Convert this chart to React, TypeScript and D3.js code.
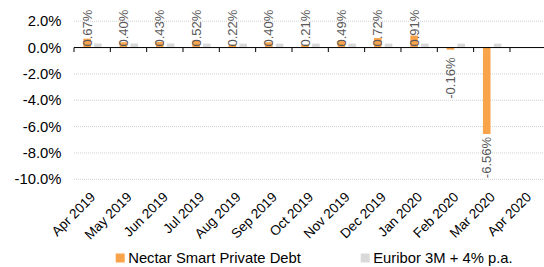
import React, { useEffect, useRef } from "react";
import * as d3 from "d3";

const months = [
  "Apr 2019", "May 2019", "Jun 2019", "Jul 2019", "Aug 2019", "Sep 2019", "Oct 2019",
  "Nov 2019", "Dec 2019", "Jan 2020", "Feb 2020", "Mar 2020", "Apr 2020",
];
const nectar: (number | null)[] = [0.67, 0.4, 0.43, 0.52, 0.22, 0.4, 0.21, 0.49, 0.72, 0.91, -0.16, -6.56, null];
const euribor: (number | null)[] = [0.31, 0.31, 0.31, 0.3, 0.3, 0.3, 0.3, 0.3, 0.3, 0.3, 0.3, 0.3, null];
const yTicks = [2, 0, -2, -4, -6, -8, -10];
const seriesNames = ["Nectar Smart Private Debt", "Euribor 3M + 4% p.a."];
const colors = ["#F9A34A", "#D9D9D9"];

const App = () => {
  const svgRef = useRef<SVGSVGElement>(null);

  useEffect(() => {
    const svg = d3.select(svgRef.current);
    const width = 544;
    const height = 267;
    svg.selectAll("*").remove();

    const x = d3.scaleBand().domain(months).range([74, 546.3]).padding(0);
    const bw = x.bandwidth();
    const sub = d3
      .scaleBand()
      .domain(["a", "b"])
      .range([bw * 0.256, bw * 0.763])
      .paddingInner(0.3);
    const y = d3.scaleLinear().domain([-10, 2]).range([179.3, 21.2]);

    // gridlines
    svg
      .append("g")
      .selectAll("line")
      .data(yTicks.filter((d) => d !== 0))
      .enter()
      .append("line")
      .attr("x1", 74)
      .attr("x2", width)
      .attr("y1", (d) => y(d))
      .attr("y2", (d) => y(d))
      .attr("stroke", "#D0D0D0")
      .attr("stroke-dasharray", "1,1");

    // y labels
    svg
      .append("g")
      .selectAll("text")
      .data(yTicks)
      .enter()
      .append("text")
      .attr("x", 61.5)
      .attr("y", (d) => y(d))
      .attr("dy", "0.35em")
      .attr("text-anchor", "end")
      .attr("font-size", 14.8)
      .attr("fill", "#000")
      .text((d) => d.toFixed(1) + "%");

    // bars
    const series = [nectar, euribor];
    series.forEach((vals, si) => {
      svg
        .append("g")
        .selectAll("rect")
        .data(months.map((m, i) => ({ m, v: vals[i] })).filter((d) => d.v !== null))
        .enter()
        .append("rect")
        .attr("x", (d) => (x(d.m) as number) + (sub(si === 0 ? "a" : "b") as number))
        .attr("width", sub.bandwidth())
        .attr("y", (d) => y(Math.max(0, d.v as number)))
        .attr("height", (d) => Math.abs(y(d.v as number) - y(0)))
        .attr("fill", colors[si]);
    });

    // x axis
    svg
      .append("line")
      .attr("x1", 74)
      .attr("x2", width)
      .attr("y1", y(0))
      .attr("y2", y(0))
      .attr("stroke", "#000");
    svg
      .append("g")
      .selectAll("line")
      .data(months)
      .enter()
      .append("line")
      .attr("x1", (d) => x(d) as number)
      .attr("x2", (d) => x(d) as number)
      .attr("y1", y(0))
      .attr("y2", y(0) + 4.5)
      .attr("stroke", "#000");

    // data labels
    svg
      .append("g")
      .selectAll("text")
      .data(months.map((m, i) => ({ m, v: nectar[i] })).filter((d) => d.v !== null))
      .enter()
      .append("text")
      .attr("transform", (d) => {
        const cx = (x(d.m) as number) + (sub("a") as number) + sub.bandwidth() / 2;
        const v = d.v as number;
        const ty = v >= 0 ? y(0) - 1 : Math.max(y(v) + 3, y(0) + 10);
        return `translate(${cx},${ty}) rotate(-90)`;
      })
      .attr("dy", "0.35em")
      .attr("text-anchor", (d) => ((d.v as number) >= 0 ? "start" : "end"))
      .attr("font-size", 13)
      .attr("fill", "#595959")
      .text((d) => (d.v as number).toFixed(2) + "%");

    // x labels
    svg
      .append("g")
      .selectAll("text")
      .data(months)
      .enter()
      .append("text")
      .attr("transform", (d) => `translate(${(x(d) as number) + bw / 2 + 4},${198}) rotate(-45)`)
      .attr("text-anchor", "end")
      .attr("font-size", 13.6)
      .attr("fill", "#000")
      .text((d) => d);

    // legend
    const legendX = [115.7, 360.7];
    const lg = svg
      .append("g")
      .selectAll("g")
      .data(seriesNames)
      .enter()
      .append("g")
      .attr("transform", (_, i) => `translate(${legendX[i]},253.5)`);
    lg.append("rect")
      .attr("width", 9)
      .attr("height", 9)
      .attr("fill", (_, i) => colors[i]);
    lg.append("text")
      .attr("x", 12.5)
      .attr("y", 9.6)
      .attr("font-size", 14.8)
      .attr("fill", "#000")
      .text((d) => d);

    svg.attr("width", width).attr("height", height);
  }, []);

  return (
    <svg
      ref={svgRef}
      width={544}
      height={267}
      style={{ position: "absolute", left: 0, top: 0, fontFamily: "'Liberation Sans', Arial, sans-serif" }}
    ></svg>
  );
};

export default App;
